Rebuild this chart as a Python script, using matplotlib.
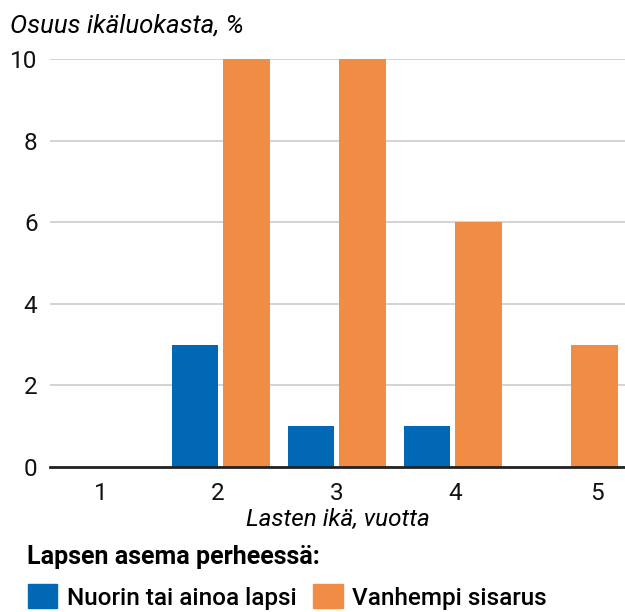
import matplotlib.pyplot as plt
import numpy as np
from matplotlib.patches import Patch

plt.rcParams['font.family'] = ['Roboto', 'DejaVu Sans']

# Data
ages = ['1', '2', '3', '4', '5']
nuorin = [0, 3, 1, 1, 0]
vanhempi = [0, 10, 10, 6, 3]

blue = '#0068b4'
orange = '#f08c44'

fig = plt.figure(figsize=(6.25, 6.12), dpi=100)
ax = fig.add_axes([0.08, 0.237, 0.92, 0.6667])

x = np.arange(len(ages))
w = 0.405
off = 0.224
ax.bar(x - off, nuorin, width=w, color=blue, zorder=3)
ax.bar(x + off, vanhempi, width=w, color=orange, zorder=3)

ax.set_xlim(-0.474, 4.483)
ax.set_ylim(0, 10)
ax.set_yticks([0, 2, 4, 6, 8, 10])
ax.yaxis.grid(True, color='#cccccc', linewidth=1.2, zorder=0)
ax.set_axisbelow(True)

# last label sits over the single bar in the source chart
label_pos = [x[0] - 0.04, x[1] - 0.03, x[2], x[3] + 0.02, x[4] + 0.24]
ax.set_xticks(label_pos)
ax.set_xticklabels(ages)
ax.tick_params(axis='both', length=0, labelsize=17.5, colors='#111111')
ax.tick_params(axis='y', pad=9)
ax.tick_params(axis='x', pad=11)

for s in ['top', 'right', 'left']:
    ax.spines[s].set_visible(False)
ax.spines['bottom'].set_linewidth(2)
ax.spines['bottom'].set_color('#222222')
ax.spines['bottom'].set_zorder(4)

ax.set_xlabel('Lasten ikä, vuotta', fontsize=17.5, style='italic', labelpad=2)
fig.text(10 / 625, 1 - 26 / 612, 'Osuus ikäluokasta, %', fontsize=18.5, style='italic',
         ha='left', va='center')

fig.text(27 / 625, 1 - 557 / 612, 'Lapsen asema perheessä:', fontsize=18,
         fontweight='bold', ha='left', va='center')

handles = [Patch(color=blue, label='Nuorin tai ainoa lapsi'),
           Patch(color=orange, label='Vanhempi sisarus')]
fig.legend(handles=handles, loc='center left', bbox_to_anchor=(18 / 625, 1 - 597 / 612),
           ncol=2, frameon=False, handlelength=1.2, handleheight=1.15,
           handletextpad=0.4, columnspacing=0.7, borderaxespad=0,
           prop={'size': 17.5, 'weight': 'medium'})

plt.savefig('out.png')
